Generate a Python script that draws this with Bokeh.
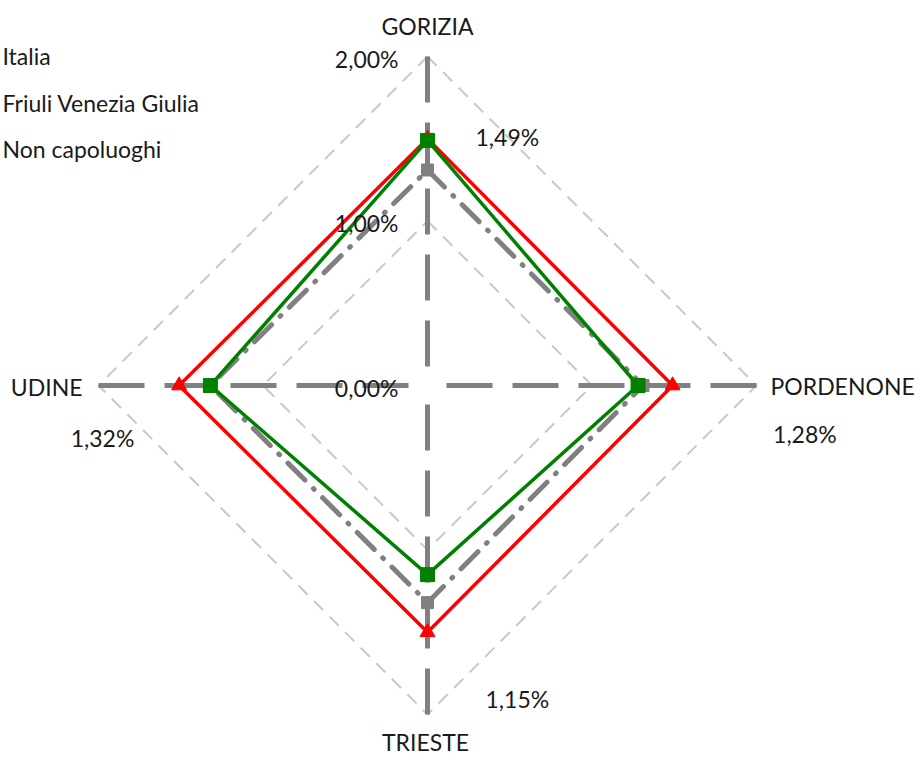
import numpy as np
from bokeh.plotting import figure
from bokeh.models import ColumnDataSource, Range1d
from bokeh.core.properties import value
from bokeh.embed import file_html
from bokeh.resources import INLINE

# ---- data ----
categories = ["GORIZIA", "PORDENONE", "TRIESTE", "UDINE"]
italia = [1.50, 1.49, 1.50, 1.51]
fvg = [1.49, 1.28, 1.15, 1.32]
non_capoluoghi = [1.31, 1.31, 1.32, 1.32]
fvg_labels = ["1,49%", "1,28%", "1,15%", "1,32%"]
ring_values = [1.0, 2.0]
tick_values = [0.0, 1.0, 2.0]
tick_labels = ["0,00%", "1,00%", "2,00%"]
series_names = ["Italia", "Friuli Venezia Giulia", "Non capoluoghi"]
r_max = 2.0

# ---- layout ----
W, H = 919, 758
cx, cy = 427, 385          # centre in pixels
scale = 164.5              # pixels per 1 %
FONT = value("Lato")
FS = "23px"
TXT = "#1a1a1a"

def px2data(px, py):
    return (px - cx) / scale, (cy - py) / scale

p = figure(width=W, height=H, output_backend="svg", toolbar_location=None,
           x_range=Range1d(-cx / scale, (W - cx) / scale),
           y_range=Range1d(-(H - cy) / scale, cy / scale),
           min_border=0, outline_line_color=None)
p.axis.visible = False
p.grid.visible = False
p.background_fill_color = "white"

n = len(categories)
theta = np.pi / 2 - np.arange(n) * 2 * np.pi / n
cos, sin = np.cos(theta), np.sin(theta)

def closed(vals):
    v = np.asarray(vals, dtype=float)
    xs = v * cos
    ys = v * sin
    return np.append(xs, xs[0]), np.append(ys, ys[0])

# grid rings
for rv in ring_values:
    gx, gy = closed([rv] * n)
    p.line(gx, gy, line_color="#c8c8c8", line_width=2, line_dash="13 9")

# spokes (drawn from outer end to centre)
p.segment(x0=r_max * cos, y0=r_max * sin, x1=np.zeros(n), y1=np.zeros(n),
          line_color="#808080", line_width=5, line_dash="46 20")

# Non capoluoghi (grey, long dash dot)
x3, y3 = closed(non_capoluoghi)
p.line(x3, y3, line_color="#808080", line_width=5, line_dash="24 12 1 12",
       line_cap="round")
p.scatter(x3[:-1], y3[:-1], marker="square", size=12, color="#808080")

# Italia (red, triangles)
x1, y1 = closed(italia)
p.line(x1, y1, line_color="#ff0000", line_width=3.5)
p.scatter(x1[:-1], y1[:-1], marker="triangle", size=15, color="#ff0000")

# Friuli Venezia Giulia (green, squares)
x2, y2 = closed(fvg)
p.line(x2, y2, line_color="#008000", line_width=3.5)
p.scatter(x2[:-1], y2[:-1], marker="square", size=14, color="#008000")

# category labels
cat_src = ColumnDataSource(dict(
    x=r_max * cos, y=r_max * sin, text=categories,
    xo=[0, 14, -2, -16], yo=[-31, 0, 27, 1],
    align=["center", "left", "center", "right"]))
p.text(x="x", y="y", text="text", x_offset="xo", y_offset="yo",
       text_align="align", text_baseline="middle", source=cat_src,
       text_font=FONT, text_font_size=FS, text_color=TXT)

# radial tick labels
p.text(x=np.zeros(len(tick_values)), y=np.array(tick_values), text=tick_labels,
       x_offset=-29, y_offset=2, text_align="right", text_baseline="middle",
       text_font=FONT, text_font_size=FS, text_color=TXT)

# data labels (Friuli Venezia Giulia)
lab_src = ColumnDataSource(dict(
    x=x2[:-1], y=y2[:-1], text=fvg_labels,
    xo=[48, 135, 58, -76], yo=[-3, 48, 124, 52],
    align=["left", "left", "left", "right"]))
p.text(x="x", y="y", text="text", x_offset="xo", y_offset="yo",
       text_align="align", text_baseline="middle", source=lab_src,
       text_font=FONT, text_font_size=FS, text_color=TXT)

# legend (top-left corner)
leg_pts = [px2data(2, py) for py in (55, 102, 148)]
p.text(x=[pt[0] for pt in leg_pts], y=[pt[1] for pt in leg_pts], text=series_names,
       text_align="left", text_baseline="middle",
       text_font=FONT, text_font_size=FS, text_color=TXT)

open("out.html", "w").write(file_html(p, INLINE))
